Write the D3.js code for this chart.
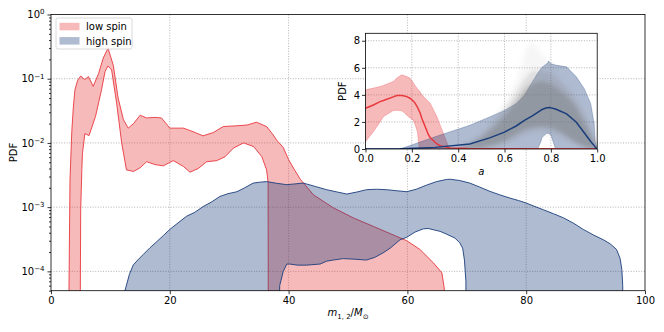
<!DOCTYPE html>
<html>
<head>
<meta charset="utf-8">
<script src="https://cdn.jsdelivr.net/npm/d3@7"></script>
<style>
  body { margin: 0; background: #fff; }
  svg text { font-family: "DejaVu Sans", sans-serif; }
</style>
</head>
<body>
<div id="chart"></div>
<script>
// Set SVG area
var svgWidth = 664;
var svgHeight = 332;

// main panel: mass distribution (log y)
const redHighM = [2.85, 3.2, 3.5, 3.75, 4.04, 4.5, 5.0, 5.7, 6.3, 7.1, 8.0, 8.8, 9.6, 10.5, 11.3, 12.2, 13.0, 13.9, 15.0, 16.1, 17.5, 18.6, 20.0, 22.3, 23.9, 25.6, 27.3, 29.0, 31.3, 33.0, 34.6, 36.3, 37.4, 38.0, 39.1, 40.0, 41.0, 42.0, 44.2, 47.5, 50.9, 54.3, 57.6, 59.9, 62.1, 64.4, 65.8, 66.2, 66.3];
const redHighP = [1e-6, 2.7e-3, 0.015, 0.035, 0.068, 0.095, 0.11, 0.097, 0.108, 0.076, 0.12, 0.21, 0.30, 0.16, 0.05, 0.023, 0.017, 0.020, 0.027, 0.0245, 0.025, 0.0245, 0.017, 0.017, 0.015, 0.0129, 0.0145, 0.018, 0.0185, 0.019, 0.021, 0.018, 0.0134, 0.011, 0.0085, 0.0055, 0.0038, 0.0027, 0.00155, 0.00098, 0.00068, 0.0005, 0.00037, 0.0003, 0.00022, 0.000135, 9.5e-5, 5.5e-5, 1e-6];
const redLowM = [2.85, 4.85, 5.0, 5.2, 5.3, 5.7, 6.4, 7.5, 8.5, 9.1, 9.6, 10.2, 11.06, 11.9, 12.7, 13.9, 15.0, 16.1, 17.5, 18.9, 20.6, 22.3, 23.4, 24.8, 26.2, 27.9, 29.3, 30.7, 32.4, 34.1, 35.5, 36.3, 36.55, 36.6, 66.3];
const redLowP = [1e-6, 1e-6, 9e-4, 4e-3, 6.9e-3, 0.014, 0.013, 0.026, 0.067, 0.129, 0.158, 0.137, 0.041, 0.010, 0.0038, 0.0036, 0.0041, 0.0051, 0.0046, 0.0044, 0.0053, 0.0043, 0.0035, 0.0040, 0.0051, 0.0053, 0.0061, 0.0083, 0.010, 0.0088, 0.0061, 0.0038, 0.0024, 1e-6, 1e-6];

const blueHighM = [12.4, 12.45, 13.2, 13.85, 14.6, 15.5, 16.6, 17.8, 18.9, 20.0, 21.4, 22.8, 24.2, 25.6, 27.0, 28.45, 29.8, 31.3, 32.6, 34.05, 35.2, 36.3, 38.0, 39.7, 41.0, 42.5, 43.0, 44.5, 46.4, 48.2, 49.8, 51.5, 53.1, 54.8, 56.5, 58.2, 59.9, 61.5, 63.2, 64.9, 66.6, 67.2, 68.8, 70.5, 72.2, 73.9, 75.6, 77.3, 78.7, 80.1, 81.5, 82.9, 84.6, 86.3, 88.0, 89.6, 91.3, 93.0, 94.1, 95.2, 95.8, 96.1, 96.25, 96.3];
const blueHighP = [1e-6, 5e-5, 9e-5, 1.26e-4, 1.5e-4, 1.82e-4, 2.3e-4, 2.9e-4, 3.6e-4, 4.5e-4, 5.7e-4, 7.2e-4, 8.3e-4, 1.02e-3, 1.2e-3, 1.47e-3, 1.62e-3, 1.74e-3, 2.0e-3, 2.37e-3, 2.45e-3, 2.5e-3, 2.35e-3, 2.24e-3, 2.3e-3, 2.37e-3, 2.3e-3, 2.1e-3, 1.87e-3, 1.72e-3, 1.6e-3, 1.72e-3, 1.87e-3, 1.9e-3, 1.87e-3, 1.8e-3, 1.74e-3, 1.9e-3, 2.2e-3, 2.5e-3, 2.7e-3, 2.72e-3, 2.6e-3, 2.37e-3, 2.05e-3, 1.76e-3, 1.55e-3, 1.38e-3, 1.27e-3, 1.15e-3, 1.02e-3, 9.1e-4, 7.9e-4, 6.8e-4, 5.6e-4, 4.5e-4, 3.7e-4, 3.1e-4, 2.7e-4, 2.2e-4, 1.6e-4, 1.07e-4, 6e-5, 1e-6];
const blueLowM = [12.4, 38.2, 38.5, 39.1, 39.7, 40.2, 41.5, 43.0, 45.3, 46.4, 47.5, 49.2, 51.0, 53.1, 54.5, 55.9, 57.1, 58.75, 59.9, 61.3, 62.7, 63.5, 65.5, 66.6, 68.0, 68.8, 69.3, 69.6, 69.85, 69.9, 96.3];
const blueLowP = [1e-6, 1e-6, 6e-5, 1e-4, 1.3e-4, 1.3e-4, 1.25e-4, 1.25e-4, 1.3e-4, 1.44e-4, 1.5e-4, 1.58e-4, 1.55e-4, 1.5e-4, 1.65e-4, 1.94e-4, 2.3e-4, 3.1e-4, 3.4e-4, 4.1e-4, 4.6e-4, 4.65e-4, 4.2e-4, 3.8e-4, 3.3e-4, 2.8e-4, 2.3e-4, 1.5e-4, 7e-5, 1e-6, 1e-6];

// inset: spin distribution
const redSpinA = [0, 0.034, 0.063, 0.077, 0.12, 0.135, 0.156, 0.163, 0.178, 0.192, 0.206, 0.214, 0.224, 0.232, 0.235, 0.243, 0.272, 0.279, 0.308, 0.322, 0.351, 0.358, 0.365, 0.44, 1.0];
const redSpinHi = [4.37, 4.5, 4.61, 4.7, 4.99, 5.25, 5.48, 5.45, 5.35, 5.24, 4.9, 4.7, 4.45, 4.3, 4.24, 4.0, 3.5, 3.39, 2.4, 1.78, 0.5, 0.17, 0, 0, 0];
const redSpinLo = [0.54, 1.28, 2.0, 2.39, 2.84, 2.86, 2.82, 2.76, 2.5, 2.3, 2.15, 1.8, 1.28, 0, 0, 0, 0, 0, 0, 0, 0, 0, 0, 0, 0];
const redSpinMed = [3.01, 3.25, 3.5, 3.58, 3.85, 3.95, 3.95, 3.94, 3.87, 3.75, 3.55, 3.39, 3.1, 2.8, 2.7, 2.27, 1.04, 0.85, 0.37, 0.25, 0.12, 0.1, 0.08, 0.03, 0];

const blueSpinA = [0, 0.149, 0.3, 0.45, 0.536, 0.6, 0.65, 0.686, 0.72, 0.743, 0.758, 0.762, 0.782, 0.786, 0.79, 0.80, 0.801, 0.82, 0.868, 0.91, 0.944, 0.972, 0.987, 0.991, 1.0];
const blueSpinHi = [0, 0, 0.9, 1.75, 2.37, 2.85, 3.35, 3.97, 4.95, 5.6, 5.95, 6.05, 6.3, 6.33, 6.5, 6.3, 6.3, 6.2, 6.07, 5.33, 4.46, 3.35, 1.86, 0.6, 0];
const blueSpinLo = [0, 0, 0, 0, 0, 0, 0, 0, 0, 0, 0.6, 0.86, 1.16, 1.17, 1.15, 1.05, 1.0, 0, 0, 0, 0, 0, 0, 0, 0];
const blueSpinMed = [0, 0.01, 0.12, 0.37, 0.82, 1.25, 1.7, 2.11, 2.45, 2.7, 2.87, 2.92, 3.05, 3.05, 3.06, 3.05, 3.04, 2.95, 2.6, 1.98, 1.2, 0.55, 0.25, 0.15, 0];

// posterior draw cloud (grey)
const greyA = [0.4, 0.45, 0.5, 0.55, 0.6, 0.65, 0.68, 0.7, 0.72, 0.76, 0.8, 0.85, 0.9, 0.95, 0.98, 1.0];
const greyOuterHi = [0.15, 0.6, 1.3, 2.3, 3.4, 5.0, 6.6, 7.6, 8.0, 7.0, 6.4, 5.0, 4.2, 2.8, 1.5, 0];
const greyOuterLo = [0, 0, 0, 0.05, 0.2, 0.5, 0.8, 0.9, 1.0, 1.0, 0.9, 0.6, 0.3, 0.1, 0.02, 0];
const greyMidHi = [0.1, 0.45, 1.0, 1.9, 2.9, 4.2, 5.0, 5.5, 5.8, 5.8, 5.6, 4.8, 3.8, 2.3, 1.1, 0];
const greyMidLo = [0, 0, 0.05, 0.2, 0.45, 0.85, 1.15, 1.25, 1.35, 1.45, 1.35, 1.0, 0.45, 0.1, 0.02, 0];
const greyInnerHi = [0.05, 0.35, 0.8, 1.5, 2.4, 3.5, 4.2, 4.6, 4.8, 5.0, 4.8, 4.2, 3.3, 1.8, 0.8, 0];
const greyInnerLo = [0, 0, 0.1, 0.3, 0.6, 1.1, 1.4, 1.5, 1.6, 1.7, 1.6, 1.2, 0.6, 0.15, 0.03, 0];

const massTicks = [0, 20, 40, 60, 80, 100];
const pdfTicks = [1e-4, 1e-3, 1e-2, 1e-1, 1];
const spinTicks = [0, 0.2, 0.4, 0.6, 0.8, 1.0];
const spinPdfTicks = [0, 2, 4, 6, 8];
const legendNames = ["low spin", "high spin"];

const RED = "#e8383d";
const BLUE = "#1a3d7c";

var svg = d3.select("#chart")
  .append("svg")
  .attr("width", svgWidth)
  .attr("height", svgHeight);

// main axes box
var main = { left: 51, right: 645, top: 14.5, bottom: 290.7 };
var xScale = d3.scaleLinear().domain([0, 100]).range([main.left, main.right]);
var yScale = d3.scaleLog().domain([5e-5, 1]).range([main.bottom, main.top]);

var defs = svg.append("defs");
defs.append("clipPath").attr("id", "mainClip")
  .append("rect")
  .attr("x", main.left).attr("y", main.top)
  .attr("width", main.right - main.left).attr("height", main.bottom - main.top);
defs.append("filter").attr("id", "soft")
  .attr("x", "-10%").attr("y", "-10%").attr("width", "120%").attr("height", "120%")
  .append("feGaussianBlur").attr("stdDeviation", 2.2);

// grid
var gridGroup = svg.append("g")
  .attr("stroke", "#a0a0a0")
  .attr("stroke-width", 0.8)
  .attr("stroke-dasharray", "1,1.6");
massTicks.slice(1, -1).forEach(t => {
  gridGroup.append("line")
    .attr("x1", xScale(t)).attr("x2", xScale(t))
    .attr("y1", main.top).attr("y2", main.bottom);
});
pdfTicks.slice(0, -1).forEach(t => {
  gridGroup.append("line")
    .attr("x1", main.left).attr("x2", main.right)
    .attr("y1", yScale(t)).attr("y2", yScale(t));
});

// closed band outline: upper curve forward, lower curve back
function bandPath(xs, hi, loX, lo, xs2, ys2) {
  var pts = xs.map((m, i) => [xs2(m), ys2(hi[i])]);
  for (var i = loX.length - 1; i >= 0; i--) pts.push([xs2(loX[i]), ys2(lo[i])]);
  return d3.line()(pts) + "Z";
}

var bands = svg.append("g").attr("clip-path", "url(#mainClip)");
bands.append("path")
  .attr("d", bandPath(redHighM, redHighP, redLowM, redLowP, xScale, yScale))
  .attr("fill", RED).attr("fill-opacity", 0.35)
  .attr("stroke", RED).attr("stroke-width", 0.9);
bands.append("path")
  .attr("d", bandPath(blueHighM, blueHighP, blueLowM, blueLowP, xScale, yScale))
  .attr("fill", BLUE).attr("fill-opacity", 0.35)
  .attr("stroke", BLUE).attr("stroke-width", 0.9);

// axes
var xAxis = svg.append("g")
  .attr("transform", `translate(0, ${main.bottom})`)
  .call(d3.axisBottom(xScale).tickValues(massTicks).tickSize(3.5).tickPadding(3).tickFormat(d3.format("d")));

var yMinor = [];
[-5, -4, -3, -2, -1].forEach(e => {
  for (var k = 2; k <= 9; k++) {
    var v = k * Math.pow(10, e);
    if (v >= 5e-5 && v <= 1) yMinor.push(v);
  }
});
svg.append("g")
  .attr("transform", `translate(${main.left}, 0)`)
  .call(d3.axisLeft(yScale).tickValues(yMinor).tickSize(2).tickFormat(""));
var yAxis = svg.append("g")
  .attr("transform", `translate(${main.left}, 0)`)
  .call(d3.axisLeft(yScale).tickValues(pdfTicks).tickSize(3.5).tickPadding(3).tickFormat(""));
yAxis.selectAll(".tick").append("text")
  .attr("x", -6.5).attr("dy", "0.32em")
  .attr("text-anchor", "end")
  .attr("fill", "#000")
  .each(function(d) {
    var t = d3.select(this);
    var e = Math.round(Math.log10(d));
    t.append("tspan").attr("font-size", "10px").text("10");
    t.append("tspan").attr("font-size", "7px").attr("dy", "-0.55em").text(e === 0 ? "0" : "\u2212" + (-e));
  });

[xAxis, yAxis].forEach(a => {
  a.select(".domain").remove();
  a.selectAll("text").attr("font-size", "10px");
});
svg.selectAll(".tick line").attr("stroke", "#000").attr("stroke-width", 0.8);
svg.selectAll("g > .domain").remove();

svg.append("rect")
  .attr("x", main.left).attr("y", main.top)
  .attr("width", main.right - main.left).attr("height", main.bottom - main.top)
  .attr("fill", "none").attr("stroke", "#000").attr("stroke-width", 0.8);

// axis labels
var xLabel = svg.append("text")
  .attr("x", 348).attr("y", 316)
  .attr("text-anchor", "middle")
  .attr("font-size", "10px");
xLabel.append("tspan").attr("font-style", "italic").text("m");
xLabel.append("tspan").attr("font-size", "7px").attr("dy", "2.5").text("1, 2");
xLabel.append("tspan").attr("dy", "-2.5").text("/");
xLabel.append("tspan").attr("font-style", "italic").text("M");
xLabel.append("tspan").attr("font-size", "7px").attr("dy", "2.5").text("\u2299");

svg.append("text")
  .attr("transform", `translate(17, ${(main.top + main.bottom) / 2}) rotate(-90)`)
  .attr("text-anchor", "middle")
  .attr("font-size", "10px")
  .text("PDF");

// legend
var legend = svg.append("g");
legend.append("rect")
  .attr("x", 56).attr("y", 18).attr("width", 76).attr("height", 31)
  .attr("rx", 2).attr("fill", "#fff").attr("fill-opacity", 0.8)
  .attr("stroke", "#d0d0d0").attr("stroke-width", 0.8);
[RED, BLUE].forEach((c, i) => {
  legend.append("rect")
    .attr("x", 59.5).attr("y", 22.8 + i * 14.3).attr("width", 20).attr("height", 7.5)
    .attr("fill", c).attr("fill-opacity", 0.35);
  legend.append("text")
    .attr("x", 86).attr("y", 30.2 + i * 14.3)
    .attr("font-size", "10px")
    .text(legendNames[i]);
});

// inset
var ins = { left: 365.5, right: 597.2, top: 33.3, bottom: 149 };
var axScale = d3.scaleLinear().domain([0, 1]).range([ins.left, ins.right]);
var ayScale = d3.scaleLinear().domain([0, 8.55]).range([ins.bottom, ins.top]);

defs.append("clipPath").attr("id", "insClip")
  .append("rect")
  .attr("x", ins.left).attr("y", ins.top)
  .attr("width", ins.right - ins.left).attr("height", ins.bottom - ins.top);

svg.append("rect")
  .attr("x", ins.left).attr("y", ins.top)
  .attr("width", ins.right - ins.left).attr("height", ins.bottom - ins.top)
  .attr("fill", "#fff");

var insGrid = svg.append("g")
  .attr("stroke", "#a0a0a0").attr("stroke-width", 0.8).attr("stroke-dasharray", "1,1.6");
spinTicks.slice(1, -1).forEach(t => {
  insGrid.append("line").attr("x1", axScale(t)).attr("x2", axScale(t))
    .attr("y1", ins.top).attr("y2", ins.bottom);
});
spinPdfTicks.slice(1).forEach(t => {
  insGrid.append("line").attr("x1", ins.left).attr("x2", ins.right)
    .attr("y1", ayScale(t)).attr("y2", ayScale(t));
});

var insPlot = svg.append("g").attr("clip-path", "url(#insClip)");

function spinArea(xs, lo, hi) {
  return d3.area()
    .x((d, i) => axScale(xs[i]))
    .y0((d, i) => ayScale(lo[i]))
    .y1((d, i) => ayScale(hi[i]))(xs);
}
function spinLine(xs, ys) {
  return d3.line()
    .x((d, i) => axScale(xs[i]))
    .y((d, i) => ayScale(ys[i]))(xs);
}

insPlot.append("path")
  .attr("d", spinArea(redSpinA, redSpinLo, redSpinHi))
  .attr("fill", RED).attr("fill-opacity", 0.35)
  .attr("stroke", RED).attr("stroke-opacity", 0.35).attr("stroke-width", 0.8);
insPlot.append("path")
  .attr("d", spinArea(blueSpinA, blueSpinLo, blueSpinHi))
  .attr("fill", BLUE).attr("fill-opacity", 0.35)
  .attr("stroke", BLUE).attr("stroke-opacity", 0.35).attr("stroke-width", 0.8);

var cloud = insPlot.append("g").attr("filter", "url(#soft)");
cloud.append("path")
  .attr("d", spinArea(greyA, greyOuterLo, greyOuterHi))
  .attr("fill", "#808080").attr("fill-opacity", 0.07);
cloud.append("path")
  .attr("d", spinArea(greyA, greyMidLo, greyMidHi))
  .attr("fill", "#808080").attr("fill-opacity", 0.2);
cloud.append("path")
  .attr("d", spinArea(greyA, greyInnerLo, greyInnerHi))
  .attr("fill", "#7a7a7a").attr("fill-opacity", 0.4);

insPlot.append("path")
  .attr("d", spinLine(redSpinA, redSpinMed))
  .attr("fill", "none").attr("stroke", RED).attr("stroke-width", 1.5);
insPlot.append("path")
  .attr("d", spinLine(blueSpinA, blueSpinMed))
  .attr("fill", "none").attr("stroke", BLUE).attr("stroke-width", 1.5);

var axAxis = svg.append("g")
  .attr("transform", `translate(0, ${ins.bottom})`)
  .call(d3.axisBottom(axScale).tickValues(spinTicks).tickSize(3.5).tickPadding(2).tickFormat(d3.format(".1f")));
var ayAxis = svg.append("g")
  .attr("transform", `translate(${ins.left}, 0)`)
  .call(d3.axisLeft(ayScale).tickValues(spinPdfTicks).tickSize(3.5).tickPadding(2).tickFormat(d3.format("d")));
[axAxis, ayAxis].forEach(a => {
  a.select(".domain").remove();
  a.selectAll("text").attr("font-size", "10px");
  a.selectAll(".tick line").attr("stroke", "#000").attr("stroke-width", 0.8);
});

svg.append("rect")
  .attr("x", ins.left).attr("y", ins.top)
  .attr("width", ins.right - ins.left).attr("height", ins.bottom - ins.top)
  .attr("fill", "none").attr("stroke", "#000").attr("stroke-width", 0.8);

svg.append("text")
  .attr("x", (ins.left + ins.right) / 2).attr("y", 175)
  .attr("text-anchor", "middle")
  .attr("font-size", "10px").attr("font-style", "italic")
  .text("a");
svg.append("text")
  .attr("transform", `translate(346, ${(ins.top + ins.bottom) / 2}) rotate(-90)`)
  .attr("text-anchor", "middle")
  .attr("font-size", "10px")
  .text("PDF");
</script>
</body>
</html>
